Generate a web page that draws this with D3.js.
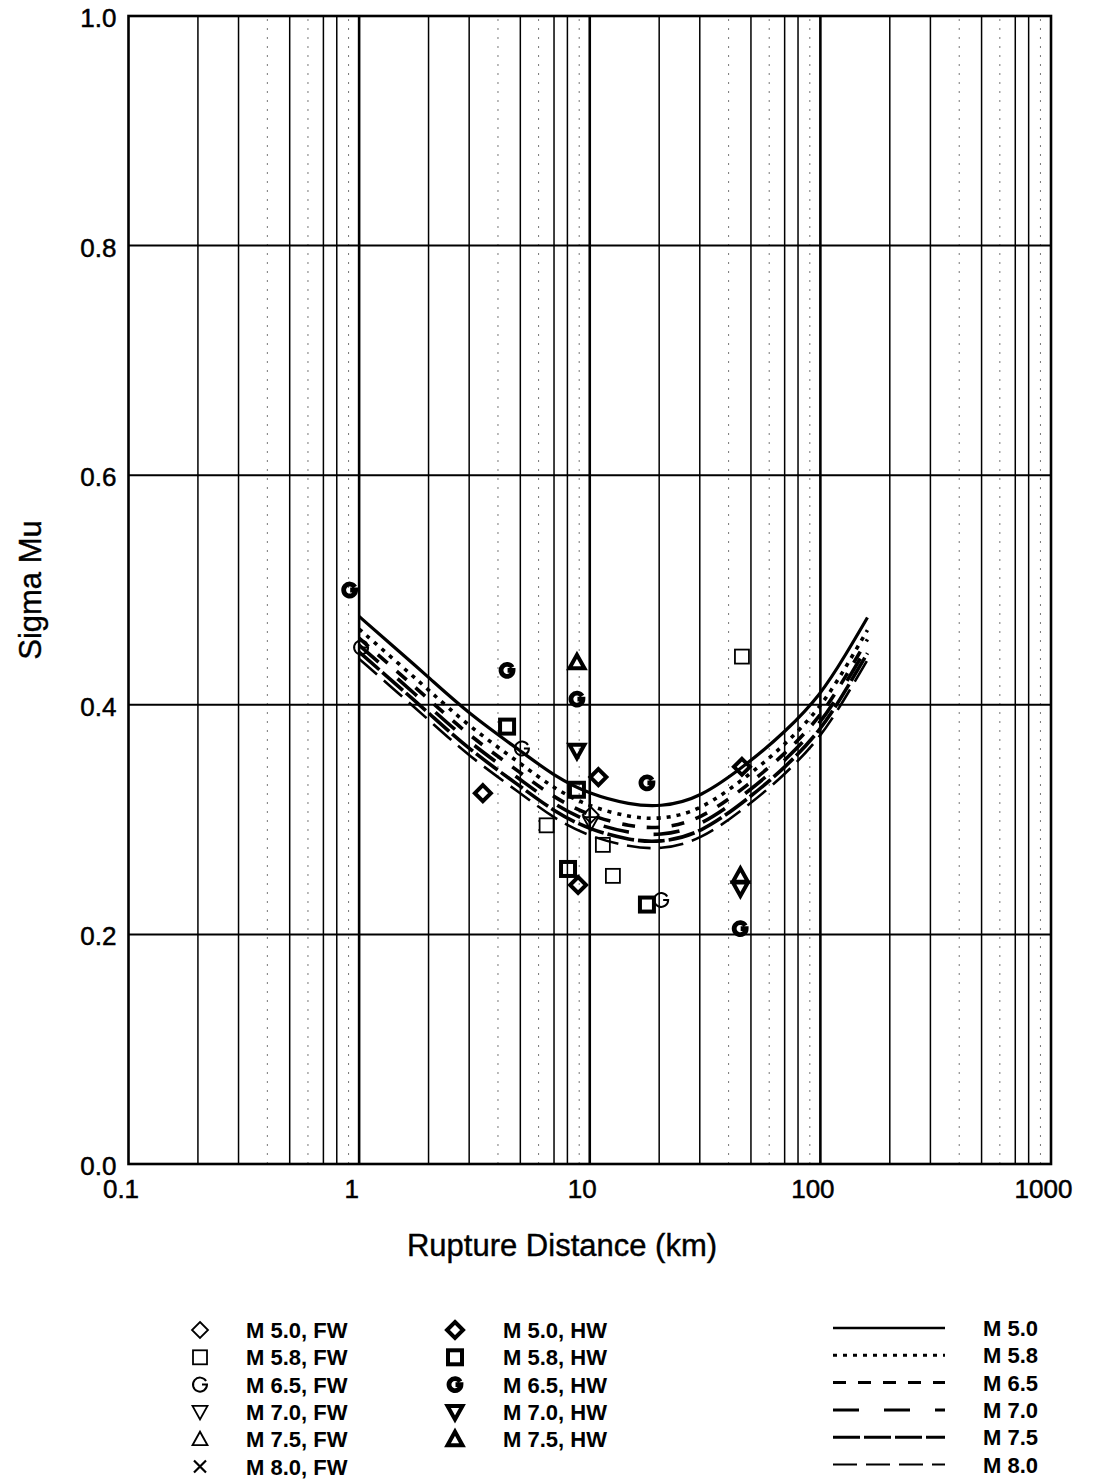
<!DOCTYPE html>
<html>
<head>
<meta charset="utf-8">
<script src="https://cdn.jsdelivr.net/npm/d3@7"></script>
<style>
  body { margin: 0; background: #fff; }
  svg { display: block; font-family: "Liberation Sans", Arial, Helvetica, sans-serif; }
</style>
</head>
<body>
<div id="chart"></div>
<script>
// Model curves: sigma mu vs rupture distance, one array per magnitude
const distances = [1, 1.5, 2, 3, 5, 7, 10, 15, 20, 30, 50, 70, 100, 130, 160];
const sigmaM50 = [0.477, 0.446, 0.424, 0.392, 0.360, 0.338, 0.322, 0.313, 0.311, 0.318, 0.351, 0.376, 0.408, 0.445, 0.476];
const sigmaM58 = [0.466, 0.435, 0.413, 0.381, 0.349, 0.327, 0.311, 0.302, 0.300, 0.307, 0.340, 0.365, 0.397, 0.434, 0.465];
const sigmaM65 = [0.458, 0.427, 0.405, 0.373, 0.341, 0.319, 0.303, 0.294, 0.292, 0.299, 0.332, 0.357, 0.389, 0.426, 0.457];
const sigmaM70 = [0.452, 0.421, 0.399, 0.367, 0.335, 0.313, 0.297, 0.288, 0.286, 0.293, 0.326, 0.351, 0.383, 0.420, 0.451];
const sigmaM75 = [0.446, 0.415, 0.393, 0.361, 0.329, 0.307, 0.291, 0.282, 0.280, 0.287, 0.320, 0.345, 0.377, 0.414, 0.445];
const sigmaM80 = [0.440, 0.409, 0.387, 0.355, 0.323, 0.301, 0.285, 0.276, 0.274, 0.281, 0.314, 0.339, 0.371, 0.408, 0.439];

// Station points [distance km, sigma mu]; FW = footwall (open), HW = hanging wall (heavy)
const m50FW = [[10.1, 0.304]];
const m58FW = [[6.5, 0.295], [11.4, 0.278], [12.6, 0.251], [45.7, 0.442]];
const m65FW = [[1.02, 0.450], [5.08, 0.362], [20.4, 0.230]];
const m70FW = [[10.1, 0.297]];
const m75FW = [];
const m80FW = [];
const m50HW = [[3.44, 0.323], [10.9, 0.337], [8.9, 0.243], [45.7, 0.346]];
const m58HW = [[4.38, 0.381], [8.8, 0.326], [8.05, 0.257], [17.7, 0.226]];
const m65HW = [[0.91, 0.500], [4.38, 0.430], [8.8, 0.405], [17.7, 0.332], [44.9, 0.205]];
const m70HW = [[8.8, 0.360], [45, 0.240]];
const m75HW = [[8.8, 0.437], [45, 0.251]];

const xTickValues = [0.1, 1, 10, 100, 1000];
const xTickLabels = ["0.1", "1", "10", "100", "1000"];
const yTickValues = [0, 0.2, 0.4, 0.6, 0.8, 1.0];

const width = 1096, height = 1483;

const svg = d3.select("#chart").append("svg")
  .attr("width", width)
  .attr("height", height);

const x = d3.scaleLog().domain([0.1, 1000]).range([128.5, 1051]);
const y = d3.scaleLinear().domain([0, 1]).range([1164, 16]);

// vertical grid: decades thick, 4/6/9 dotted, others thin
x.ticks().forEach((t) => {
  const mant = Math.round(t / Math.pow(10, Math.floor(Math.log10(t) + 1e-9)));
  if (t <= 0.1 || t >= 1000) return;
  const line = svg.append("line")
    .attr("x1", x(t)).attr("x2", x(t))
    .attr("y1", y(0)).attr("y2", y(1))
    .attr("stroke", "#000");
  if (mant === 1) line.attr("stroke-width", 2.6);
  else if (mant === 4 || mant === 6 || mant === 9) line.attr("stroke-width", 1).attr("stroke", "#777").attr("stroke-dasharray", "2,7");
  else line.attr("stroke-width", 1.5);
});

// horizontal grid
[0.2, 0.4, 0.6, 0.8].forEach((v) => {
  svg.append("line")
    .attr("x1", x(0.1)).attr("x2", x(1000))
    .attr("y1", y(v)).attr("y2", y(v))
    .attr("stroke", "#000")
    .attr("stroke-width", 2);
});

// frame
svg.append("rect")
  .attr("x", x(0.1)).attr("y", y(1))
  .attr("width", x(1000) - x(0.1))
  .attr("height", y(0) - y(1))
  .attr("fill", "none")
  .attr("stroke", "#000")
  .attr("stroke-width", 2.6);

// axes (labels only)
const yAxis = svg.append("g")
  .attr("transform", `translate(${x(0.1)},0)`)
  .call(d3.axisLeft(y).tickValues(yTickValues).tickFormat(d3.format(".1f")).tickSize(0).tickPadding(12));
const xAxis = svg.append("g")
  .attr("transform", `translate(0,${y(0)})`)
  .call(d3.axisBottom(x).tickValues(xTickValues).tickFormat((d, i) => xTickLabels[i]).tickSize(0).tickPadding(16));
[yAxis, xAxis].forEach((g) => {
  g.select(".domain").remove();
  g.selectAll("text")
    .attr("font-family", "'Liberation Sans', Arial, sans-serif")
    .attr("font-size", 26)
    .attr("fill", "#000")
    .attr("stroke", "#000")
    .attr("stroke-width", 0.5);
});
xAxis.selectAll("text").attr("dx", -8);
yAxis.selectAll("text").attr("dy", "0.4em");

svg.append("text")
  .attr("x", 562).attr("y", 1256)
  .attr("text-anchor", "middle")
  .attr("font-size", 31)
  .attr("stroke", "#000").attr("stroke-width", 0.4)
  .text("Rupture Distance (km)");

svg.append("text")
  .attr("transform", "translate(41,590) rotate(-90)")
  .attr("text-anchor", "middle")
  .attr("font-size", 31)
  .attr("stroke", "#000").attr("stroke-width", 0.4)
  .text("Sigma Mu");

// curves
const curveSeries = [
  { name: "M 5.0", values: sigmaM50, dash: null, w: 3.2 },
  { name: "M 5.8", values: sigmaM58, dash: "4,6", w: 3.6 },
  { name: "M 6.5", values: sigmaM65, dash: "13,12", w: 3.6 },
  { name: "M 7.0", values: sigmaM70, dash: "26,25", w: 3.6 },
  { name: "M 7.5", values: sigmaM75, dash: "27,4", w: 3.6 },
  { name: "M 8.0", values: sigmaM80, dash: "24,9", w: 2.6 }
];

const line = d3.line()
  .x((d) => x(d[0]))
  .y((d) => y(d[1]))
  .curve(d3.curveBasis);

curveSeries.forEach((s) => {
  svg.append("path")
    .datum(distances.map((d, i) => [d, s.values[i]]))
    .attr("d", line)
    .attr("fill", "none")
    .attr("stroke", "#000")
    .attr("stroke-width", s.w)
    .attr("stroke-dasharray", s.dash);
});

// marker shapes
function drawMarker(g, shape, heavy, cx, cy) {
  const sw = heavy ? 4 : 1.8;
  const m = g.append("g").attr("transform", `translate(${cx},${cy})`);
  if (shape === "diamond") {
    const h = 8;
    m.append("path").attr("d", `M0,${-h}L${h},0L0,${h}L${-h},0Z`)
      .attr("fill", "none").attr("stroke", "#000").attr("stroke-width", sw).attr("stroke-linejoin", "miter");
  } else if (shape === "square") {
    const h = 7;
    m.append("rect").attr("x", -h).attr("y", -h).attr("width", 2 * h).attr("height", 2 * h)
      .attr("fill", "none").attr("stroke", "#000").attr("stroke-width", sw);
  } else if (shape === "circle") {
    const r = heavy ? 6 : 7;
    const a = Math.PI / 6;
    m.append("path")
      .attr("d", `M${r * Math.cos(a)},${-r * Math.sin(a)}A${r},${r} 0 1 0 ${r},0L${heavy ? 0.5 : 2},0`)
      .attr("fill", "none").attr("stroke", "#000").attr("stroke-width", heavy ? 4.8 : 2);
  } else if (shape === "down" || shape === "up") {
    const h = 7.5, s = shape === "down" ? 1 : -1;
    m.append("path").attr("d", `M${-h},${-s * h * 0.8}L${h},${-s * h * 0.8}L0,${s * h}Z`)
      .attr("fill", "none").attr("stroke", "#000").attr("stroke-width", sw).attr("stroke-linejoin", "miter");
  } else if (shape === "cross") {
    const h = 6;
    m.append("path").attr("d", `M${-h},${-h}L${h},${h}M${h},${-h}L${-h},${h}`)
      .attr("stroke", "#000").attr("stroke-width", 2.2);
  }
}

const markerSeries = [
  { label: "M 5.0, FW", pts: m50FW, shape: "diamond", heavy: false },
  { label: "M 5.8, FW", pts: m58FW, shape: "square", heavy: false },
  { label: "M 6.5, FW", pts: m65FW, shape: "circle", heavy: false },
  { label: "M 7.0, FW", pts: m70FW, shape: "down", heavy: false },
  { label: "M 7.5, FW", pts: m75FW, shape: "up", heavy: false },
  { label: "M 8.0, FW", pts: m80FW, shape: "cross", heavy: false },
  { label: "M 5.0, HW", pts: m50HW, shape: "diamond", heavy: true },
  { label: "M 5.8, HW", pts: m58HW, shape: "square", heavy: true },
  { label: "M 6.5, HW", pts: m65HW, shape: "circle", heavy: true },
  { label: "M 7.0, HW", pts: m70HW, shape: "down", heavy: true },
  { label: "M 7.5, HW", pts: m75HW, shape: "up", heavy: true }
];

const pointsG = svg.append("g");
markerSeries.forEach((s) => {
  s.pts.forEach((p) => drawMarker(pointsG, s.shape, s.heavy, x(p[0]), y(p[1])));
});

// legends
const rowY = (i) => 1330 + i * 27.3;
const legendG = svg.append("g");

markerSeries.forEach((s, idx) => {
  const col = s.heavy ? 1 : 0;
  const i = s.heavy ? idx - 6 : idx;
  const mx = col === 0 ? 200 : 455;
  const tx = col === 0 ? 246 : 503;
  drawMarker(legendG, s.shape, s.heavy, mx, rowY(i));
  legendG.append("text")
    .attr("x", tx).attr("y", rowY(i) + 8)
    .attr("font-size", 22).attr("font-weight", "bold")
    .text(s.label);
});

curveSeries.forEach((s, i) => {
  legendG.append("line")
    .attr("x1", 833).attr("x2", 945)
    .attr("y1", rowY(i) - 2).attr("y2", rowY(i) - 2)
    .attr("stroke", "#000")
    .attr("stroke-width", s.w - 0.6)
    .attr("stroke-dasharray", s.dash);
  legendG.append("text")
    .attr("x", 983).attr("y", rowY(i) + 6)
    .attr("font-size", 22).attr("font-weight", "bold")
    .text(s.name);
});
</script>
</body>
</html>
